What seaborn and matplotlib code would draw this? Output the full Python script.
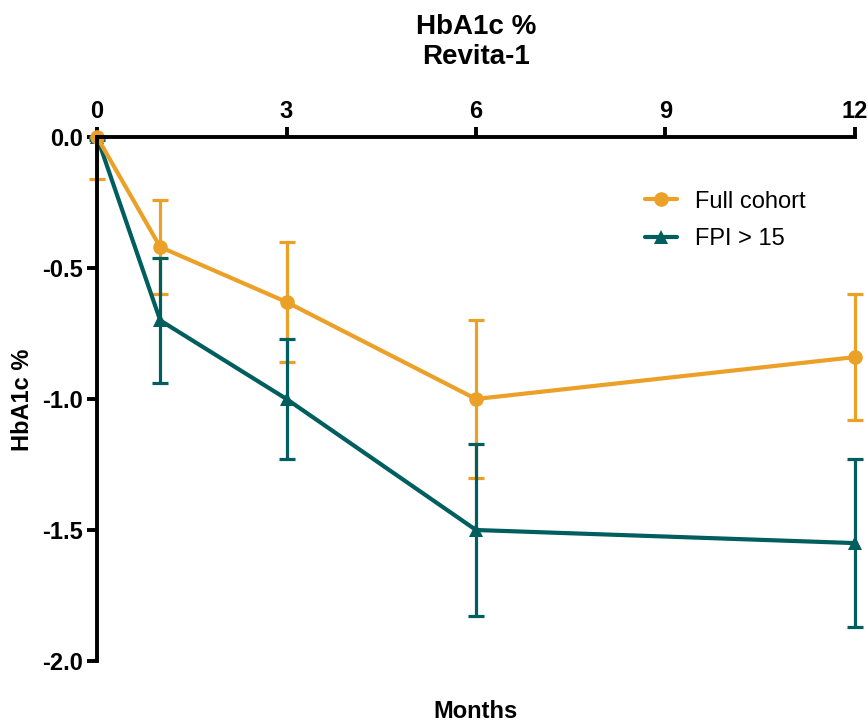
import numpy as np
import pandas as pd
import seaborn as sns
import matplotlib.pyplot as plt

# data
months = [0, 1, 3, 6, 12]
full_cohort = [0.0, -0.42, -0.63, -1.00, -0.84]
full_cohort_lo = [0.16, 0.18, 0.23, 0.30, 0.24]
full_cohort_hi = [0.0, 0.18, 0.23, 0.30, 0.24]
fpi_15 = [0.0, -0.70, -1.00, -1.50, -1.55]
fpi_15_lo = [0.01, 0.24, 0.23, 0.33, 0.32]
fpi_15_hi = [0.0, 0.24, 0.23, 0.33, 0.32]
series_names = ["Full cohort", "FPI > 15"]
x_ticks = [0, 3, 6, 9, 12]
y_ticks = [0.0, -0.5, -1.0, -1.5, -2.0]

ORANGE = "#EBA028"
TEAL = "#005E5E"

sns.set_style("white")
plt.rcParams['font.family'] = ['Liberation Sans', 'DejaVu Sans']
plt.rcParams['text.color'] = 'black'

df = pd.DataFrame({
    "month": months * 2,
    "value": full_cohort + fpi_15,
    "group": [series_names[0]] * len(months) + [series_names[1]] * len(months),
})

fig = plt.figure(figsize=(8.68, 7.24), dpi=100)
ax = fig.add_axes([0.1118, 0.087, 0.985 - 0.1118, 0.8108 - 0.087])

# error bars (asymmetric at month 0 where only the lower arm shows)
for vals, lo, hi, col in [(full_cohort, full_cohort_lo, full_cohort_hi, ORANGE),
                          (fpi_15, fpi_15_lo, fpi_15_hi, TEAL)]:
    eb = ax.errorbar(months, vals, yerr=[lo, hi], fmt="none", ecolor=col,
                     elinewidth=2.3, capsize=6, capthick=2.3, zorder=2)
    for art in eb.lines[1] + eb.lines[2]:
        art.set_clip_on(False)

sns.lineplot(data=df, x="month", y="value", hue="group", style="group",
             markers={"Full cohort": "o", "FPI > 15": "^"}, dashes=False,
             palette={"Full cohort": ORANGE, "FPI > 15": TEAL},
             linewidth=3, markersize=10.5, markeredgewidth=0, ax=ax, zorder=3)
for ln in ax.lines:
    ln.set_clip_on(False)
    # full cohort on top, as in the original
    if ln.get_marker() == "o":
        ln.set_zorder(4)

ax.set_xlim(0, 12)
ax.set_ylim(-2.0, 0.0)
ax.set_xticks(x_ticks)
ax.set_yticks(y_ticks)
ax.set_yticklabels(["%.1f" % v for v in y_ticks])

ax.xaxis.tick_top()
ax.spines["right"].set_visible(False)
ax.spines["bottom"].set_visible(False)
for s in ["left", "top"]:
    ax.spines[s].set_linewidth(2.8)
    ax.spines[s].set_color("black")
    ax.spines[s].set_zorder(5)

ax.tick_params(axis="both", which="major", direction="out", length=7, width=2.8,
               labelsize=17, colors="black", left=True, top=True, pad=3)
for lab in ax.get_xticklabels() + ax.get_yticklabels():
    lab.set_fontweight("bold")

ax.set_xlabel("")
ax.set_ylabel("")
fig.text(476 / 868, 1 - 712 / 724, "Months", fontsize=17, fontweight="bold",
         ha="center", va="center", color="black")
fig.text(23 / 868, 1 - 400 / 724, "HbA1c %", fontsize=17, fontweight="bold",
         ha="center", va="center", rotation=90, color="black")
fig.text(476 / 868, 1 - 42 / 724, "HbA1c %\nRevita-1", fontsize=20,
         fontweight="bold", ha="center", va="center", linespacing=1.15,
         color="black")

leg = ax.legend(loc="upper left", bbox_to_anchor=(0.719, 0.766),
                bbox_transform=fig.transFigure, frameon=False,
                fontsize=17, handlelength=1.35, labelspacing=0.65,
                handletextpad=0.75, borderpad=0.4)
for h in leg.legend_handles:
    h.set_linewidth(3)
for t in leg.get_texts():
    t.set_color("black")

fig.savefig("out.png", dpi=100)
